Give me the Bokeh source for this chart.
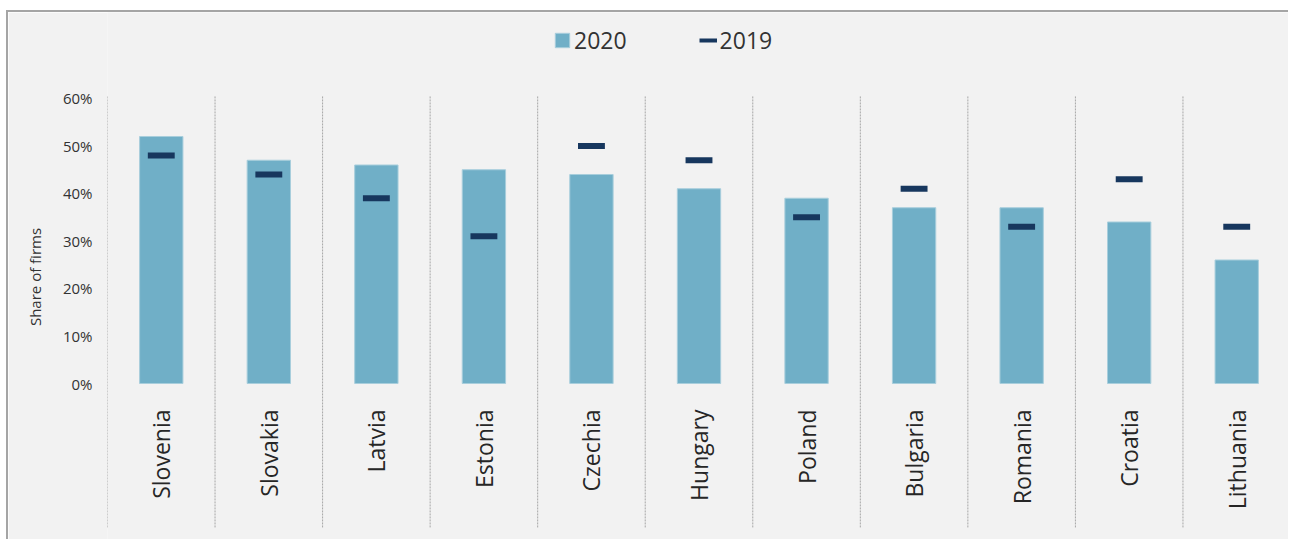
import math
from bokeh.plotting import figure
from bokeh.models import (Range1d, FixedTicker, PrintfTickFormatter, Legend, LegendItem,
                          ColumnDataSource)
from bokeh.embed import file_html
from bokeh.resources import INLINE

countries = ["Slovenia", "Slovakia", "Latvia", "Estonia", "Czechia", "Hungary",
             "Poland", "Bulgaria", "Romania", "Croatia", "Lithuania"]
share_2020 = [52, 47, 46, 45, 44, 41, 39, 37, 37, 34, 26]
share_2019 = [48, 44, 39, 31, 50, 47, 35, 41, 33, 43, 33]
y_ticks = [0, 10, 20, 30, 40, 50, 60]

BG = "#f2f2f2"
BAR = "#70afc7"
NAVY = "#17375e"
FONT = "Open Sans"

xs = list(range(len(countries)))
sep_x = [i - 0.5 for i in xs]
src = ColumnDataSource(dict(x=xs, c=countries, v20=share_2020, v19=share_2019))

p = figure(width=1282, height=529, output_backend="svg", toolbar_location=None,
           x_range=Range1d(-0.5, len(countries) - 0.5),
           y_range=Range1d(-33.263, 78.105))
p.min_border_left = 99
p.min_border_right = 0
p.min_border_top = 0
p.min_border_bottom = 0
p.background_fill_color = BG
p.border_fill_color = BG
p.outline_line_color = None
p.styles = {"margin-top": "10px", "margin-left": "6px",
            "border-top": "2px solid #a5a5a5", "border-left": "2px solid #a5a5a5"}

# dotted separators between categories
p.segment(x0=sep_x, y0=-30.3, x1=sep_x, y1=60.6, line_color="#a6a6a6",
          line_dash="2 1", line_width=1)

bars = p.vbar(x="x", top="v20", bottom=0, width=0.403, source=src,
              fill_color=BAR, line_color="#a8cedc", line_width=1)
p.rect(x="x", y="v19", width=0.25, height=6, height_units="screen", source=src,
       fill_color=NAVY, line_color=None)
dash_proxy = p.line(x=[float("nan")], y=[float("nan")], line_color=NAVY, line_width=4)

p.xgrid.visible = False
p.ygrid.visible = False

# x axis placed at y = 0
xa = p.xaxis[0]
xa.fixed_location = 0
xa.ticker = FixedTicker(ticks=xs)
xa.major_label_overrides = {i: c for i, c in enumerate(countries)}
xa.major_label_orientation = math.pi / 2
xa.axis_line_color = None
xa.major_tick_line_color = None
xa.minor_tick_line_color = None
xa.major_tick_out = 0
xa.major_tick_in = 0
xa.major_label_standoff = 26
xa.major_label_text_font = FONT
xa.major_label_text_font_size = "23px"
xa.major_label_text_color = "#262626"

ya = p.yaxis[0]
ya.ticker = FixedTicker(ticks=y_ticks)
ya.formatter = PrintfTickFormatter(format="%d%%")
ya.axis_line_color = None
ya.major_tick_line_color = None
ya.minor_tick_line_color = None
ya.major_tick_out = 0
ya.major_tick_in = 0
ya.major_label_standoff = 15
ya.major_label_text_font = FONT
ya.major_label_text_font_size = "15px"
ya.major_label_text_color = "#333333"
ya.axis_label = "Share of firms"
ya.axis_label_text_font = FONT
ya.axis_label_text_font_size = "15px"
ya.axis_label_text_font_style = "normal"
ya.axis_label_text_color = "#333333"
ya.axis_label_standoff = 15

legend = Legend(items=[LegendItem(label="2020", renderers=[bars]),
                       LegendItem(label="2019", renderers=[dash_proxy])],
                orientation="horizontal", location=(446, 485),
                glyph_width=18, glyph_height=18, label_standoff=3, spacing=72,
                padding=0, border_line_color=None, background_fill_alpha=0,
                label_text_font=FONT, label_text_font_size="23px",
                label_text_color="#333333")
p.add_layout(legend, "center")

open("out.html", "w").write(file_html(p, INLINE))
